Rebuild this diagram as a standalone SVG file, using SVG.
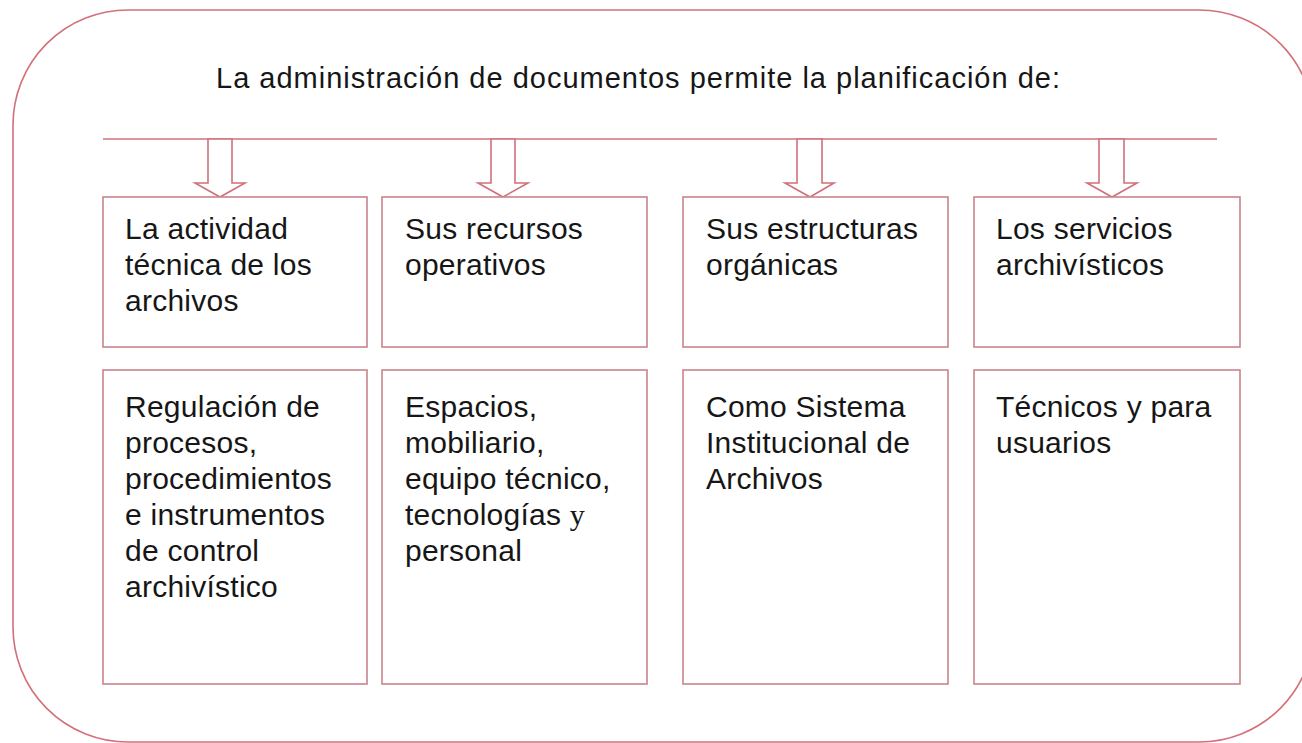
<svg xmlns="http://www.w3.org/2000/svg" width="1302" height="743" viewBox="0 0 1302 743">
<defs>
<style>
.frame{fill:none;stroke:#d4707a;stroke-width:1.6}
.box{fill:#ffffff;stroke:#c9848c;stroke-width:1.6}
.arrow{fill:#ffffff;stroke:#d0707a;stroke-width:1.6;stroke-linejoin:miter}
.bar{stroke:#d4707a;stroke-width:1.6}
.t{font-family:"Liberation Sans",Arial,sans-serif;font-size:30px;letter-spacing:0.25px;fill:#161616}
.title{font-family:"Liberation Sans",Arial,sans-serif;font-size:29px;fill:#161616}
.serif{font-family:"Liberation Serif","Times New Roman",serif}
</style>
</defs>
<rect width="1302" height="743" fill="#ffffff"/>
<rect id="frame" class="frame" x="13" y="10" width="1301" height="732" rx="115" ry="115"/>
<text id="title" class="title" x="216" y="88" textLength="844" lengthAdjust="spacing">La administración de documentos permite la planificación de:</text>
<g id="connectors">
<line class="bar" x1="103" y1="139" x2="1217" y2="139"/>
<polygon class="arrow" points="208,139 232,139 232,183 245,183 220,197 195,183 208,183"/>
<polygon class="arrow" points="491,139 515,139 515,183 528,183 503,197 478,183 491,183"/>
<polygon class="arrow" points="797,139 822,139 822,183 834,183 810,197 785,183 797,183"/>
<polygon class="arrow" points="1099,139 1124,139 1124,183 1137,183 1112,197 1087,183 1099,183"/>
</g>
<g id="n1">
<rect class="box" x="103" y="197" width="264" height="150"/>
<text class="t" x="125" y="239">La actividad</text>
<text class="t" x="125" y="275">técnica de los</text>
<text class="t" x="125" y="311">archivos</text>
</g>
<g id="n2">
<rect class="box" x="382" y="197" width="265" height="150"/>
<text class="t" x="405" y="239">Sus recursos</text>
<text class="t" x="405" y="275">operativos</text>
</g>
<g id="n3">
<rect class="box" x="683" y="197" width="265" height="150"/>
<text class="t" x="706" y="239">Sus estructuras</text>
<text class="t" x="706" y="275">orgánicas</text>
</g>
<g id="n4">
<rect class="box" x="974" y="197" width="266" height="150"/>
<text class="t" x="996" y="239">Los servicios</text>
<text class="t" x="996" y="275">archivísticos</text>
</g>
<g id="n5">
<rect class="box" x="103" y="370" width="264" height="314"/>
<text class="t" x="125" y="417">Regulación de</text>
<text class="t" x="125" y="453">procesos,</text>
<text class="t" x="125" y="489">procedimientos</text>
<text class="t" x="125" y="525">e instrumentos</text>
<text class="t" x="125" y="561">de control</text>
<text class="t" x="125" y="597">archivístico</text>
</g>
<g id="n6">
<rect class="box" x="382" y="370" width="265" height="314"/>
<text class="t" x="405" y="417">Espacios,</text>
<text class="t" x="405" y="453">mobiliario,</text>
<text class="t" x="405" y="489">equipo técnico,</text>
<text class="t" x="405" y="525">tecnologías <tspan class="serif">y</tspan></text>
<text class="t" x="405" y="561">personal</text>
</g>
<g id="n7">
<rect class="box" x="683" y="370" width="265" height="314"/>
<text class="t" x="706" y="417">Como Sistema</text>
<text class="t" x="706" y="453">Institucional de</text>
<text class="t" x="706" y="489">Archivos</text>
</g>
<g id="n8">
<rect class="box" x="974" y="370" width="266" height="314"/>
<text class="t" x="996" y="417">Técnicos y para</text>
<text class="t" x="996" y="453">usuarios</text>
</g>
</svg>
